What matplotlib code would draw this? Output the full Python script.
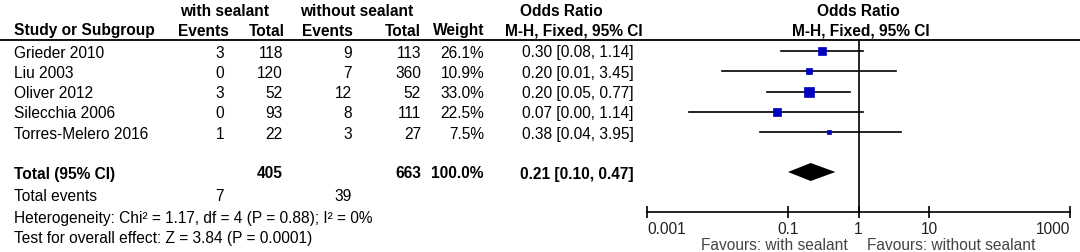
import matplotlib.pyplot as plt

plt.rcParams['font.family'] = ['Liberation Sans', 'DejaVu Sans']
plt.rcParams['font.size'] = 11.2

studies = ['Grieder 2010', 'Liu 2003', 'Oliver 2012', 'Silecchia 2006', 'Torres-Melero 2016']
events_with = [3, 0, 3, 0, 1]
total_with = [118, 120, 52, 93, 22]
events_without = [9, 7, 12, 8, 3]
total_without = [113, 360, 52, 111, 27]
weights = [26.1, 10.9, 33.0, 22.5, 7.5]
odds = [0.30, 0.20, 0.20, 0.07, 0.38]
ci_low = [0.08, 0.01, 0.05, 0.00, 0.04]
ci_high = [1.14, 3.45, 0.77, 1.14, 3.95]
# lower ends as drawn (the printed ones are rounded to 0.00 / 0.01)
ci_low_drawn = [0.08, 0.0115, 0.05, 0.004, 0.04]

total_label = 'Total (95% CI)'
sum_with, sum_without = 405, 663
sum_weight = 100.0
pooled_or, pooled_lo, pooled_hi = 0.21, 0.10, 0.47
events_sum_with, events_sum_without = 7, 39
heterogeneity = 'Heterogeneity: Chi² = 1.17, df = 4 (P = 0.88); I² = 0%'
overall = 'Test for overall effect: Z = 3.84 (P = 0.0001)'

axis_ticks = [0.001, 0.1, 1, 10, 1000]
axis_labels = ['0.001', '0.1', '1', '10', '1000']

W, H = 1080, 252
fig = plt.figure(figsize=(W / 100, H / 100), dpi=100)

# text layer in pixel coordinates
tx = fig.add_axes([0, 0, 1, 1])
tx.set_xlim(0, W)
tx.set_ylim(H, 0)
tx.axis('off')

row_y = [51, 71.3, 91.6, 111.9, 132.2]   # mark centres
total_y = 172
base = 6.5                                # text baseline below mark centre

def t(x, y, s, ha='left', bold=False, color='black'):
    tx.text(x, y, s, ha=ha, va='baseline', color=color,
            fontweight='bold' if bold else 'normal')

# headers
t(180, 15.5, 'with sealant', bold=True)
t(300, 15.5, 'without sealant', bold=True)
t(561, 15.5, 'Odds Ratio', ha='center', bold=True)
t(858, 15.5, 'Odds Ratio', ha='center', bold=True)
t(14, 35.5, 'Study or Subgroup', bold=True)
t(229, 35.5, 'Events', ha='right', bold=True)
t(285, 35.5, 'Total', ha='right', bold=True)
t(353, 35.5, 'Events', ha='right', bold=True)
t(421, 35.5, 'Total', ha='right', bold=True)
t(484, 35.5, 'Weight', ha='right', bold=True)
t(574, 35.5, 'M-H, Fixed, 95% CI', ha='center', bold=True)
t(861, 35.5, 'M-H, Fixed, 95% CI', ha='center', bold=True)
tx.plot([0, W], [39.5, 39.5], color='black', lw=1.3)

for i, y in enumerate(row_y):
    yb = y + base
    t(14, yb, studies[i])
    t(224, yb, str(events_with[i]), ha='right')
    t(283, yb, str(total_with[i]), ha='right')
    t(352, yb, str(events_without[i]), ha='right')
    t(421, yb, str(total_without[i]), ha='right')
    t(484, yb, f'{weights[i]:.1f}%', ha='right')
    t(634, yb, f'{odds[i]:.2f} [{ci_low[i]:.2f}, {ci_high[i]:.2f}]', ha='right')

yb = total_y + base
t(14, yb, total_label, bold=True)
t(283, yb, str(sum_with), ha='right', bold=True)
t(421, yb, str(sum_without), ha='right', bold=True)
t(484, yb, f'{sum_weight:.1f}%', ha='right', bold=True)
t(634, yb, f'{pooled_or:.2f} [{pooled_lo:.2f}, {pooled_hi:.2f}]', ha='right', bold=True)
t(14, 201, 'Total events')
t(224, 201, str(events_sum_with), ha='right')
t(352, 201, str(events_sum_without), ha='right')
t(14, 222.5, heterogeneity)
t(14, 243, overall)

# forest panel: x 647..1070 px, y 39.5..212 px
x0, x1 = 647, 1070
y_top, y_axis = 39.5, 212
fa = fig.add_axes([x0 / W, 1 - y_axis / H, (x1 - x0) / W, (y_axis - y_top) / H])
fa.patch.set_alpha(0)
fa.set_xscale('log')
fa.set_xlim(axis_ticks[0], axis_ticks[-1])
fa.set_ylim(y_axis, y_top)
for s in ['top', 'left', 'right']:
    fa.spines[s].set_visible(False)
fa.spines['bottom'].set_linewidth(1.2)
fa.set_yticks([])
fa.minorticks_off()
fa.set_xticks(axis_ticks)
fa.set_xticklabels(axis_labels, color='#222222', fontsize=11.2)
fa.tick_params(axis='x', direction='inout', length=8, width=1.2, pad=3.5)
for lab, ha in zip(fa.get_xticklabels(), ['left', 'center', 'center', 'center', 'right']):
    lab.set_ha(ha)

fa.axvline(1, color='black', lw=1.2)
for i, y in enumerate(row_y):
    fa.plot([ci_low_drawn[i], ci_high[i]], [y, y], color='black', lw=1.2)
    side = 1.57 * weights[i] ** 0.5
    fa.plot(odds[i], y, marker='s', ms=side * 0.72, color='#0000c0', mec='#0000c0', mew=0.5)

fa.fill([pooled_lo, pooled_or, pooled_hi, pooled_or],
        [total_y, total_y - 9, total_y, total_y + 9], color='black', lw=0)

t(848, 250.5, 'Favours: with sealant', ha='right', color='#444444')
t(867, 250.5, 'Favours: without sealant', color='#444444')

fig.savefig('out.png', dpi=100)
